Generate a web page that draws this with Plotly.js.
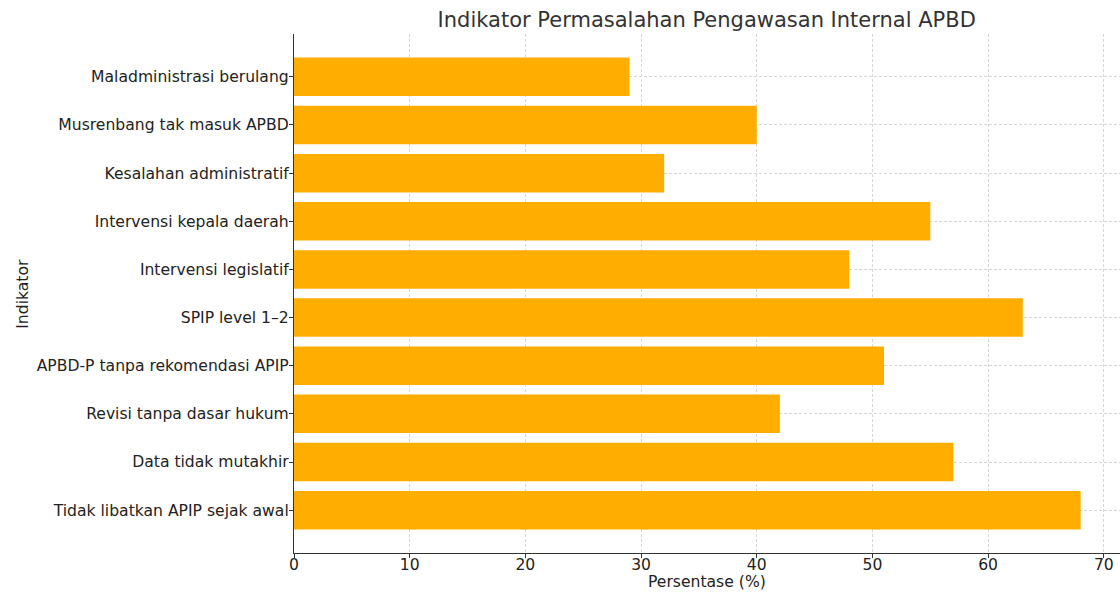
<!DOCTYPE html>
<html>
<head>
<meta charset="utf-8">
<script src="https://cdn.plot.ly/plotly-3.0.1.min.js"></script>
<style>html,body{margin:0;padding:0;background:#fff;}#chart{width:1120px;height:592px;}</style>
</head>
<body>
<div id="chart"></div>
<script>
const categories = [
  "Tidak libatkan APIP sejak awal",
  "Data tidak mutakhir",
  "Revisi tanpa dasar hukum",
  "APBD-P tanpa rekomendasi APIP",
  "SPIP level 1–2",
  "Intervensi legislatif",
  "Intervensi kepala daerah",
  "Kesalahan administratif",
  "Musrenbang tak masuk APBD",
  "Maladministrasi berulang"
];
const values = [68, 57, 42, 51, 63, 48, 55, 32, 40, 29];
const xTicks = [0, 10, 20, 30, 40, 50, 60, 70];

const font = "DejaVu Sans, sans-serif";
const fs = 15.6;
Plotly.newPlot("chart", [{
  type: "bar",
  orientation: "h",
  y: categories,
  x: values,
  width: 0.8,
  marker: {color: "#FFAE00", line: {width: 0}},
  hoverinfo: "x+y"
}], {
  width: 1120, height: 592,
  margin: {l: 294, r: 0, t: 34, b: 39},
  paper_bgcolor: "#fff", plot_bgcolor: "#fff",
  font: {family: font, color: "#222", size: fs},
  title: {text: "Indikator Permasalahan Pengawasan Internal APBD", x: 0.631, xanchor: "center", y: 0.966, yanchor: "middle", font: {family: font, size: 21, color: "#333"}},
  xaxis: {
    range: [0, 71.4], tickvals: xTicks, ticktext: xTicks.map(String),
    showgrid: true, gridcolor: "#d6d6d6", griddash: "3px,2px", gridwidth: 1,
    zeroline: false, showline: true, linecolor: "#333", linewidth: 1.3,
    ticks: "outside", ticklen: 4, tickcolor: "#333",
    ticklabelstandoff: -7,
    tickfont: {family: font, size: fs, color: "#222"}
  },
  yaxis: {
    type: "category", range: [-0.89, 9.89],
    showgrid: true, gridcolor: "#d6d6d6", griddash: "3px,2px", gridwidth: 1,
    zeroline: false, showline: true, linecolor: "#333", linewidth: 1.3,
    ticks: "outside", ticklen: 4, tickcolor: "#333",
    ticklabelstandoff: -3,
    tickfont: {family: font, size: fs, color: "#222"}
  },
  annotations: [
    {text: "Persentase (%)", xref: "paper", yref: "paper", x: 0.5, y: -0.056, xanchor: "center", yanchor: "middle", showarrow: false, font: {family: font, size: fs, color: "#222"}},
    {text: "Indikator", xref: "paper", yref: "paper", x: -0.329, y: 0.5, xanchor: "center", yanchor: "middle", textangle: -90, showarrow: false, font: {family: font, size: fs, color: "#222"}}
  ],
  showlegend: false
}, {displayModeBar: false});
</script>
</body>
</html>
